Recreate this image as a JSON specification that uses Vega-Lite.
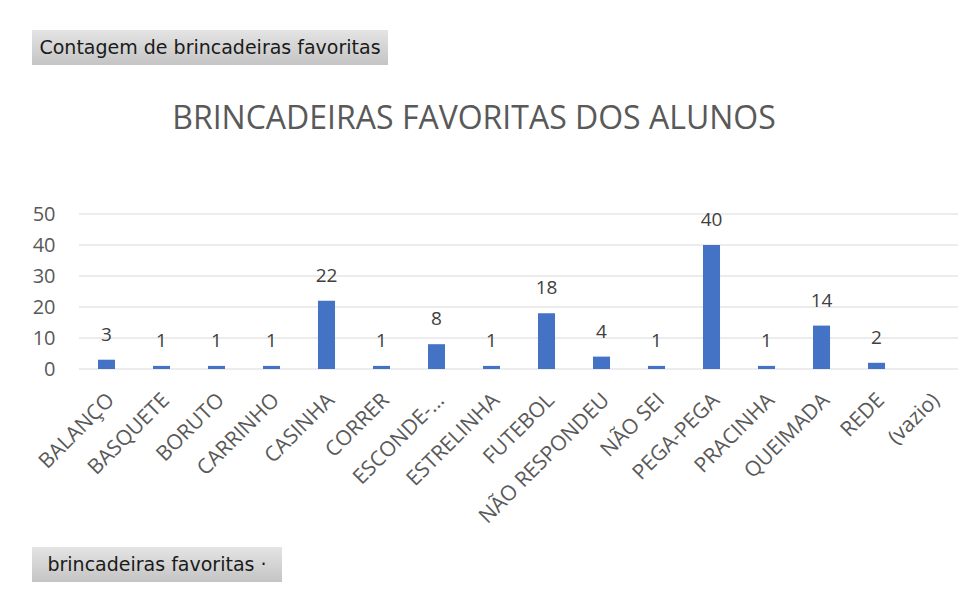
{
  "$schema": "https://vega.github.io/schema/vega-lite/v6.json",
  "padding": {"left": 32, "top": 30, "right": 10, "bottom": 10},
  "background": "white",
  "config": {"view": {"stroke": null}, "font": "Open Sans"},
  "datasets": {
    "games": [
      {"brincadeira": "BALANÇO", "contagem": 3},
      {"brincadeira": "BASQUETE", "contagem": 1},
      {"brincadeira": "BORUTO", "contagem": 1},
      {"brincadeira": "CARRINHO", "contagem": 1},
      {"brincadeira": "CASINHA", "contagem": 22},
      {"brincadeira": "CORRER", "contagem": 1},
      {"brincadeira": "ESCONDE-...", "contagem": 8},
      {"brincadeira": "ESTRELINHA", "contagem": 1},
      {"brincadeira": "FUTEBOL", "contagem": 18},
      {"brincadeira": "NÃO RESPONDEU", "contagem": 4},
      {"brincadeira": "NÃO SEI", "contagem": 1},
      {"brincadeira": "PEGA-PEGA", "contagem": 40},
      {"brincadeira": "PRACINHA", "contagem": 1},
      {"brincadeira": "QUEIMADA", "contagem": 14},
      {"brincadeira": "REDE", "contagem": 2},
      {"brincadeira": "(vazio)", "contagem": null}
    ],
    "grid": [
      {"contagem": 0}, {"contagem": 10}, {"contagem": 20}, {"contagem": 30}, {"contagem": 40}, {"contagem": 50}
    ]
  },
  "vconcat": [
    {
      "spacing": 38,
      "vconcat": [
        {
          "width": 356,
          "height": 35,
          "data": {"values": [{"label": "Contagem de brincadeiras favoritas"}]},
          "layer": [
            {"mark": {"type": "rect", "color": {"gradient": "linear", "x1": 0, "y1": 0, "x2": 0, "y2": 1, "stops": [{"offset": 0, "color": "#e4e4e4"}, {"offset": 1, "color": "#c4c4c4"}]}}, "encoding": {}},
            {"mark": {"type": "text", "font": "DejaVu Sans", "fontSize": 19, "color": "#1a1a1a"}, "encoding": {"text": {"field": "label"}}}
          ]
        },
        {
          "width": 926,
          "height": 155,
          "title": {"text": "BRINCADEIRAS FAVORITAS DOS ALUNOS", "fontSize": 32, "font": "Open Sans", "fontWeight": "normal", "color": "#595959", "anchor": "middle", "dx": -21, "offset": 68},
          "data": {"name": "games"},
          "encoding": {
            "x": {
              "field": "brincadeira", "type": "nominal", "sort": null,
              "scale": {"domain": ["BALANÇO", "BASQUETE", "BORUTO", "CARRINHO", "CASINHA", "CORRER", "ESCONDE-...", "ESTRELINHA", "FUTEBOL", "NÃO RESPONDEU", "NÃO SEI", "PEGA-PEGA", "PRACINHA", "QUEIMADA", "REDE", "(vazio)"], "paddingInner": 0.69, "paddingOuter": 0.763, "align": 0.786},
              "axis": {"title": null, "labelAngle": -45, "labelFontSize": 21, "labelColor": "#595959", "ticks": false, "domain": false, "labelPadding": 20, "labelOffset": -3, "grid": false}
            },
            "y": {
              "field": "contagem", "type": "quantitative",
              "scale": {"domain": [0, 50]},
              "axis": {"title": null, "values": [0, 10, 20, 30, 40, 50], "labelFontSize": 20, "labelColor": "#595959", "ticks": false, "domain": false, "grid": false, "labelAlign": "right", "labelPadding": -23}
            }
          },
          "layer": [
            {
              "data": {"name": "grid"},
              "mark": {"type": "rule", "color": "#d9d9d9", "strokeWidth": 1},
              "encoding": {
                "x": {"datum": "BALANÇO", "bandPosition": -1.114},
                "x2": {"datum": "(vazio)", "bandPosition": 2.053}
              }
            },
            {"mark": {"type": "bar", "color": "#4472C4"}},
            {"mark": {"type": "text", "dy": -19, "baseline": "alphabetic", "fontSize": 19, "color": "#404040"}, "encoding": {"text": {"field": "contagem", "type": "quantitative"}}}
          ]
        }
      ]
    },
    {
      "width": 250,
      "height": 35,
      "data": {"values": [{"label": "brincadeiras favoritas     ·"}]},
      "layer": [
        {"mark": {"type": "rect", "color": {"gradient": "linear", "x1": 0, "y1": 0, "x2": 0, "y2": 1, "stops": [{"offset": 0, "color": "#e4e4e4"}, {"offset": 1, "color": "#c4c4c4"}]}}, "encoding": {}},
        {"mark": {"type": "text", "font": "DejaVu Sans", "fontSize": 19, "color": "#1a1a1a"}, "encoding": {"text": {"field": "label"}}}
      ]
    }
  ],
  "spacing": 20
}
